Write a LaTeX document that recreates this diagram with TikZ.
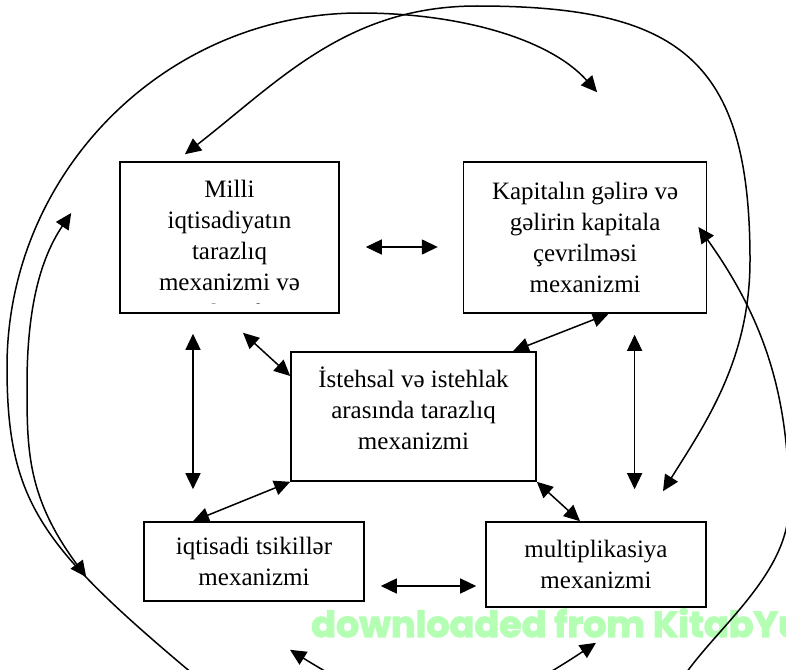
\documentclass[tikz,border=0pt]{standalone}
\usepackage{fontspec}
\setmainfont{Liberation Serif}
\newfontfamily\wmfont{Poppins}[FakeStretch=1.015,BoldFeatures={FakeBold=3}]
\usetikzlibrary{positioning,arrows.meta}
\definecolor{watermark}{HTML}{B4FFB4}

\begin{document}
\begin{tikzpicture}[x=1pt,y=-1pt,font=\fontsize{25}{31}\selectfont,>={Triangle[length=16pt,width=15pt]}]
    \tikzstyle{mech}=[draw, line width=1.6pt, align=center, inner sep=0pt]
    \tikzstyle{link}=[line width=1.5pt, <->]

    \useasboundingbox (0,0) rectangle (786,669);
    \clip (0,0) rectangle (786,669);

    \node[anchor=base west, inner sep=0pt, text=watermark, font=\wmfont\bfseries\fontsize{36}{36}\selectfont] (wm) at (311,637) {downloaded from KitabYu};

    \node[mech, minimum width=219pt, minimum height=151pt, path picture={
        \clip ([yshift=9.5pt]path picture bounding box.south west) rectangle (path picture bounding box.north east);
        \node[anchor=north, align=center, inner sep=0pt] at ([yshift=-15pt]path picture bounding box.north) {Milli\\iqtisadiyatın\\tarazlıq\\mexanizmi və\\inkişafı};
    }] (milli) at (229.5,237.5) {};
    \node[mech, minimum width=243pt, minimum height=151pt, right=123pt of milli] (kapital) {Kapitalın gəlirə və\\gəlirin kapitala\\çevrilməsi\\mexanizmi};
    \node[mech, minimum width=245pt, minimum height=129pt] (istehsal) at (413.5,416.5) {İstehsal və istehlak\\arasında tarazlıq\\mexanizmi\\[-15pt]\mbox{}};
    \node[mech, minimum width=220pt, minimum height=79pt] (tsikl) at (254,561.5) {iqtisadi tsikillər\\mexanizmi};
    \node[mech, minimum width=220pt, minimum height=85pt] (multi) at (596,564.5) {multiplikasiya\\mexanizmi};

    % ends of the big loops
    \coordinate (pA) at ([xshift=-44.5pt,yshift=7pt]milli.north);
    \coordinate (pE) at ([xshift=67pt,yshift=30pt]multi.north);
    \coordinate (qB) at ([xshift=12pt,yshift=69pt]kapital.north);
    \coordinate (qE) at ([yshift=-35pt]multi.south);
    \coordinate (rB) at ([xshift=-9pt,yshift=10.5pt]kapital.east);
    \coordinate (rD) at ([xshift=36pt,yshift=-48pt]tsikl.south);
    \coordinate (sA) at ([xshift=-48pt,yshift=24.5pt]milli.west);
    \coordinate (sD) at ([xshift=-57pt,yshift=-15.5pt]tsikl.west);

    \draw[link,shorten <=26pt,shorten >=25pt] ([yshift=-9.5pt]milli.east) -- ([yshift=-9.5pt]kapital.west);
    \draw[link,shorten <=20pt,shorten >=32pt] ([xshift=-36.5pt]milli.south) -- ([xshift=-36.5pt]milli.south |- tsikl.north);
    \draw[link,shorten <=21pt,shorten >=32pt] ([xshift=49.5pt]kapital.south) -- ([xshift=49.5pt]kapital.south |- multi.north);
    \draw[link,shorten <=28pt] ([xshift=-7.2pt]milli.south) -- ([yshift=40.5pt]istehsal.west);
    \draw[link] ([xshift=99.5pt]istehsal.north) -- ([xshift=23.5pt]kapital.south);
    \draw[link] (istehsal.south west) -- ([xshift=-61pt]tsikl.north);
    \draw[link] (istehsal.south east) -- ([xshift=-16pt]multi.north);
    \draw[link,shorten <=16pt,shorten >=9pt] ([yshift=-24.5pt]tsikl.east) -- ([yshift=-24.5pt]tsikl.east -| multi.west);

    \draw[link] (pA) .. controls (279,81) and (347,6) .. (477,6) .. controls (680,6) and (750,60) .. (750,260) .. controls (750,360) and (705,424) .. (pE);
    \draw[link] (qB) .. controls (550,39) and (460,13) .. (360,13) .. controls (166,13) and (7,172) .. (7,367) .. controls (7,500) and (40,545) .. (187,669) .. controls (319,776) and (454,737) .. (qE);
    \draw[link] (rB) .. controls (767,323) and (789,400) .. (789,505) .. controls (789,570) and (725,621) .. (689,669) .. controls (599,789) and (433,739) .. (rD);
    \draw[link] (sA) .. controls (38,262) and (27,315) .. (27,385) .. controls (27,450) and (27,497) .. (sD);
\end{tikzpicture}
\end{document}
